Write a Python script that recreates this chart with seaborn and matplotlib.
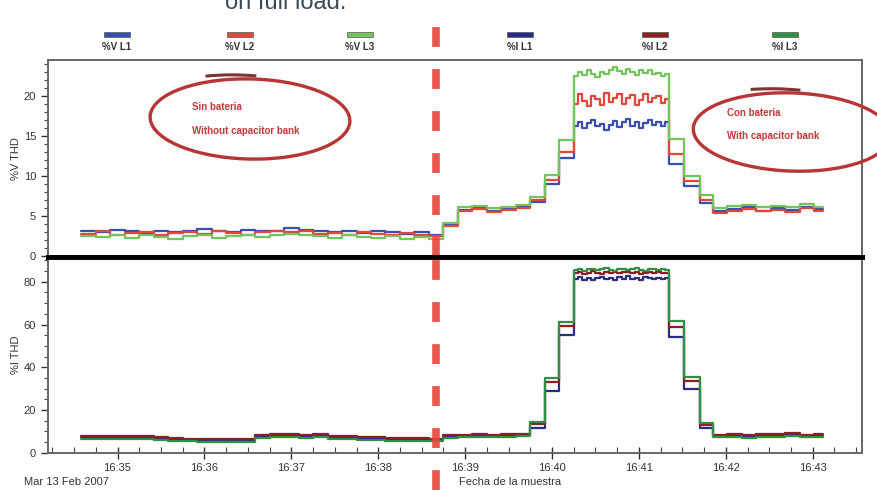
import matplotlib.dates as mdates
import matplotlib.pyplot as plt
import pandas as pd
import seaborn as sns
from matplotlib.patches import Arc, Ellipse, Rectangle

W, H = 877, 490

# sample times, seconds after 16:34:00 on 13 Feb 2007
SAMPLE_SECONDS = (
    [35, 45, 55, 65, 75, 85, 95, 105, 115, 125, 135, 145, 155, 165, 175, 185,
     195, 205, 215, 225, 235, 245, 255, 265, 275]
    + [285, 295, 305, 315, 325, 335]
    + [345, 355, 365]
    + [375, 378, 381, 384, 387, 390, 393, 396, 399, 402, 405, 408, 411, 414,
       417, 420, 423, 426, 429, 432, 435, 438]
    + [441, 451, 462]
    + [471, 481, 491, 501, 511, 521, 531, 541, 547]
)
SWITCH_SECONDS = 280  # capacitor bank switched in

V_L1 = (
    [3.2, 3.0, 3.3, 3.1, 2.9, 3.2, 3.0, 3.1, 3.4, 3.2, 3.0, 3.3, 3.1, 3.2, 3.5,
     3.3, 3.1, 3.0, 3.2, 2.9, 3.1, 3.0, 2.8, 3.0, 2.6]
    + [4.0, 5.8, 6.0, 5.7, 5.9, 6.1]
    + [6.8, 9.0, 12.2]
    + [16.3, 16.8, 16.0, 16.6, 17.0, 16.2, 16.5, 15.8, 16.4, 16.9, 16.1, 16.7,
       17.1, 16.3, 16.8, 16.0, 16.6, 17.0, 16.4, 16.7, 16.2, 16.8]
    + [11.5, 8.8, 6.6]
    + [5.6, 5.9, 6.1, 5.7, 6.0, 5.8, 6.2, 5.9, 5.9]
)
V_L2 = (
    [2.8, 3.1, 2.7, 2.9, 3.0, 2.6, 2.9, 3.0, 2.8, 3.1, 2.9, 2.7, 3.0, 3.2, 3.0,
     3.1, 2.8, 2.9, 2.7, 3.0, 2.8, 2.6, 2.9, 2.7, 2.5]
    + [3.8, 5.6, 5.9, 5.5, 5.8, 6.0]
    + [7.0, 9.5, 13.0]
    + [19.0, 20.2, 19.4, 18.8, 20.0, 19.6, 18.9, 20.4, 19.2, 19.8, 20.3, 19.0,
       19.7, 20.1, 18.9, 19.5, 20.2, 19.3, 19.8, 20.0, 19.1, 19.6]
    + [12.8, 9.4, 7.0]
    + [5.4, 5.7, 5.9, 5.6, 5.8, 5.5, 6.0, 5.7, 5.7]
)
V_L3 = (
    [2.5, 2.4, 2.7, 2.3, 2.6, 2.4, 2.2, 2.5, 2.6, 2.3, 2.5, 2.6, 2.4, 2.7, 2.8,
     2.6, 2.5, 2.3, 2.6, 2.4, 2.3, 2.5, 2.2, 2.4, 2.2]
    + [4.2, 6.1, 6.3, 6.0, 6.2, 6.4]
    + [7.4, 10.2, 14.5]
    + [22.5, 23.0, 22.6, 23.2, 22.8, 22.4, 23.0, 22.7, 23.3, 23.6, 23.1, 22.8,
       23.4, 23.0, 22.6, 23.2, 22.9, 23.3, 22.7, 22.9, 22.5, 22.8]
    + [14.6, 10.0, 7.6]
    + [6.0, 6.3, 6.4, 6.1, 6.3, 6.2, 6.5, 6.2, 6.2]
)

I_L1 = (
    [7.2, 7.0, 7.4, 7.1, 7.3, 6.9, 6.5, 6.0, 5.8, 5.9, 5.7, 6.0, 7.6, 8.0, 8.2,
     7.9, 8.1, 7.4, 7.0, 6.9, 6.7, 6.5, 6.3, 6.4, 6.1]
    + [7.5, 7.8, 8.0, 7.7, 7.9, 8.1]
    + [11.5, 29.0, 55.0]
    + [81.5, 82.3, 81.0, 82.0, 80.8, 81.7, 82.4, 81.2, 81.9, 80.9, 82.1, 81.4,
       82.5, 81.1, 81.8, 80.7, 82.2, 81.6, 81.3, 82.0, 81.5, 81.9]
    + [54.0, 30.0, 11.5]
    + [7.8, 8.0, 7.7, 8.1, 7.9, 8.2, 7.8, 8.0, 8.0]
)
I_L2 = (
    [7.8, 7.6, 8.0, 7.7, 7.9, 7.5, 7.0, 6.6, 6.3, 6.4, 6.2, 6.5, 8.2, 8.6, 8.8,
     8.5, 8.7, 8.0, 7.6, 7.4, 7.2, 7.0, 6.8, 6.9, 6.6]
    + [8.2, 8.5, 8.7, 8.4, 8.6, 8.8]
    + [13.5, 33.0, 59.5]
    + [84.0, 84.6, 83.8, 84.3, 84.9, 84.1, 83.6, 84.5, 84.2, 84.8, 83.9, 84.4,
       84.7, 84.0, 84.5, 83.7, 84.3, 84.8, 84.1, 84.6, 83.9, 84.3]
    + [59.0, 33.5, 13.0]
    + [8.5, 8.8, 8.4, 8.9, 8.6, 9.0, 8.5, 8.7, 8.7]
)
I_L3 = (
    [6.4, 6.2, 6.6, 6.3, 6.5, 6.1, 5.7, 5.3, 5.0, 5.1, 4.9, 5.2, 6.8, 7.2, 7.4,
     7.1, 7.3, 6.6, 6.2, 6.1, 5.9, 5.7, 5.5, 5.6, 5.3]
    + [7.0, 7.3, 7.5, 7.2, 7.4, 7.6]
    + [14.5, 35.0, 61.0]
    + [85.5, 86.0, 85.2, 85.8, 86.2, 85.4, 85.9, 86.3, 85.6, 85.1, 85.8, 86.1,
       85.5, 85.9, 86.4, 85.7, 85.2, 85.9, 86.0, 85.4, 85.8, 85.6]
    + [61.5, 35.5, 14.0]
    + [7.2, 7.4, 7.1, 7.5, 7.3, 7.6, 7.2, 7.4, 7.4]
)

V_NAMES = ["%V L1", "%V L2", "%V L3"]
I_NAMES = ["%I L1", "%I L2", "%I L3"]
V_COLORS = ["#3a4fb4", "#e0483a", "#74c45e"]
I_COLORS = ["#2a2c8a", "#8c1f22", "#2f8f45"]

BASE = pd.Timestamp("2007-02-13 16:34:00")
RED = "#e8453c"
INK = "#c43a3a"


def px(x, y):
    return x / W, 1 - y / H


def long_frame(names, series):
    times = BASE + pd.to_timedelta(SAMPLE_SECONDS, unit="s")
    parts = [pd.DataFrame({"time": times, "value": vals, "series": name})
             for name, vals in zip(names, series)]
    return pd.concat(parts, ignore_index=True)


def style_axis(ax, lo, hi, major, minor):
    ax.set_ylim(lo, hi)
    ax.yaxis.set_major_locator(plt.MultipleLocator(major))
    ax.yaxis.set_minor_locator(plt.MultipleLocator(minor))
    ax.tick_params(axis="y", which="major", length=5, width=1, labelsize=8,
                   colors="#333333")
    ax.tick_params(axis="y", which="minor", length=3, width=0.8, colors="#444444")
    ax.set_facecolor("#fcfdfc")
    for side in ("left", "right", "top", "bottom"):
        ax.spines[side].set_visible(True)
        ax.spines[side].set_color("#666666")
        ax.spines[side].set_linewidth(1.4)


def main():
    sns.set_style("ticks")
    plt.rcParams["font.family"] = ["Liberation Sans", "DejaVu Sans"]

    fig = plt.figure(figsize=(W / 100, H / 100), dpi=100)
    ax_v = fig.add_axes([48 / W, 1 - 257 / H, 814 / W, 197 / H])
    ax_i = fig.add_axes([48 / W, 1 - 453 / H, 814 / W, 196 / H], sharex=ax_v)

    sns.lineplot(data=long_frame(V_NAMES, [V_L1, V_L2, V_L3]), x="time",
                 y="value", hue="series", palette=V_COLORS, ax=ax_v,
                 drawstyle="steps-post", linewidth=1.6, legend=False,
                 estimator=None)
    sns.lineplot(data=long_frame(I_NAMES, [I_L1, I_L2, I_L3]), x="time",
                 y="value", hue="series", palette=I_COLORS, ax=ax_i,
                 drawstyle="steps-post", linewidth=1.6, legend=False,
                 estimator=None)

    style_axis(ax_v, -0.1, 24.5, 5, 1)
    style_axis(ax_i, -0.15, 91.6, 20, 5)
    ax_v.spines["bottom"].set_color("black")
    ax_v.spines["bottom"].set_linewidth(3.5)
    ax_i.spines["top"].set_color("black")
    ax_i.spines["top"].set_linewidth(3.5)

    ax_v.set_ylabel("%V THD", fontsize=8, color="#333333")
    ax_i.set_ylabel("%I THD", fontsize=8, color="#333333")
    ax_v.yaxis.set_label_coords(-0.033, 0.5)
    ax_i.yaxis.set_label_coords(-0.033, 0.5)
    ax_v.set_xlabel("")
    ax_i.set_xlabel("")

    ax_i.set_xlim(BASE + pd.Timedelta(seconds=12), BASE + pd.Timedelta(seconds=574))
    ax_i.xaxis.set_major_locator(mdates.MinuteLocator())
    ax_i.xaxis.set_minor_locator(mdates.SecondLocator(bysecond=[15, 30, 45]))
    ax_i.xaxis.set_major_formatter(mdates.DateFormatter("%H:%M"))
    ax_i.tick_params(axis="x", which="major", direction="inout", length=8,
                     width=1, labelsize=8, colors="#333333")
    ax_i.tick_params(axis="x", which="minor", direction="in", length=4,
                     width=0.8, colors="#444444")
    ax_v.tick_params(axis="x", which="both", bottom=False, labelbottom=False)

    # switching instant
    switch = BASE + pd.Timedelta(seconds=SWITCH_SECONDS)
    dash = (0, (2.6, 2.9))
    ax_v.axvline(switch, ymin=0, ymax=1.23, color=RED, lw=5.5, ls=dash,
                 alpha=0.9, clip_on=False, zorder=5)
    ax_i.axvline(switch, ymin=-0.19, ymax=1, color=RED, lw=5.5, ls=dash,
                 alpha=0.9, clip_on=False, zorder=5)

    # legend strip above the top panel
    legend_x = [117, 240, 360, 520, 655, 785]
    for cx, name, color in zip(legend_x, V_NAMES + I_NAMES, V_COLORS + I_COLORS):
        x0, y0 = px(cx - 13, 37)
        fig.patches.append(Rectangle((x0, y0), 26 / W, 5 / H, facecolor=color,
                                     edgecolor="#555555", lw=0.5,
                                     transform=fig.transFigure))
        fig.text(*px(cx, 47), name, ha="center", va="center", fontsize=7,
                 fontweight="bold", color="#333333")

    # hand-drawn style annotations
    for cx, cy, w, h, ang in [(250, 119, 200, 80, -4), (792, 132, 198, 78, -6)]:
        fig.patches.append(Ellipse(px(cx, cy), w / W, h / H, angle=ang,
                                   fill=False, edgecolor="#b83535", lw=2.4,
                                   transform=fig.transFigure))
        fig.patches.append(Arc(px(cx - 12, cy - 2), (w + 20) / W, (h + 4) / H,
                               angle=ang, theta1=80, theta2=118,
                               edgecolor="#7a3535", lw=2.2,
                               transform=fig.transFigure))
    fig.text(*px(192, 107), "Sin bateria", fontsize=7, fontweight="bold",
             color=INK, va="center")
    fig.text(*px(192, 131), "Without capacitor bank", fontsize=7,
             fontweight="bold", color=INK, va="center")
    fig.text(*px(727, 113), "Con bateria", fontsize=7, fontweight="bold",
             color=INK, va="center")
    fig.text(*px(727, 136), "With capacitor bank", fontsize=7,
             fontweight="bold", color=INK, va="center")

    fig.text(*px(24, 482), "Mar 13 Feb 2007", fontsize=8, color="#333333",
             va="center")
    fig.text(*px(510, 482), "Fecha de la muestra", fontsize=8, color="#333333",
             va="center", ha="center")
    # caption from the page above, cut by the image edge as in the source
    fig.text(*px(225, 9), "on full load.", fontsize=17, color="#3d4a55",
             va="baseline")

    fig.savefig("out.png", dpi=100)
    plt.close(fig)


if __name__ == "__main__":
    main()
